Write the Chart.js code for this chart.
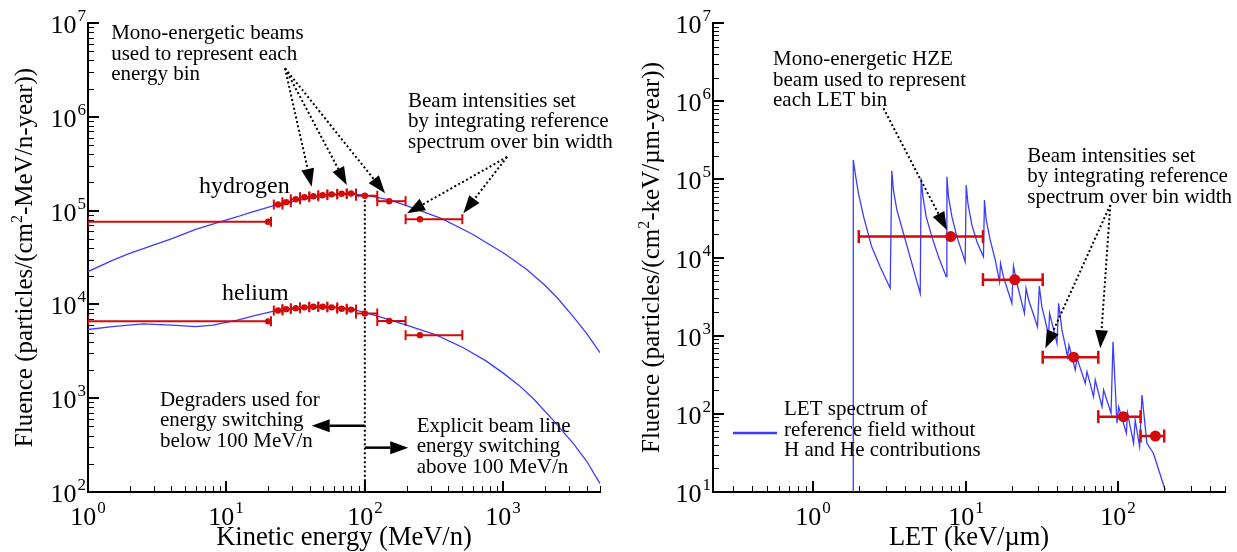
<!DOCTYPE html>
<html>
<head>
<meta charset="utf-8">
<script src="https://cdn.jsdelivr.net/npm/chart.js@4.4.0/dist/chart.umd.min.js"></script>
<style>
  body { margin: 0; background: #fff; }
  #wrap { position: relative; width: 1237px; height: 552px; }
  canvas { position: absolute; top: 0; }
</style>
</head>
<body>
<div id="wrap">
  <canvas id="energyChart" width="619" height="552" style="left:0"></canvas>
  <canvas id="letChart" width="618" height="552" style="left:619px"></canvas>
</div>
<script>
// ---- left panel: kinetic energy spectra (MeV/n)
const hCurveE = [1, 1.5, 2, 3, 4, 6, 9, 12, 15, 22, 30, 45, 70, 100, 150, 200, 360, 600, 800, 1000, 1480, 2000, 2500, 3160, 4000, 5000];
const hCurveF = [2.24e4, 2.95e4, 3.5e4, 4.3e4, 5.0e4, 6.3e4, 7.6e4, 8.6e4, 9.6e4, 1.13e5, 1.25e5, 1.40e5, 1.50e5, 1.47e5, 1.30e5, 1.13e5,
  8.2e4, 5.6e4, 4.33e4, 3.55e4, 2.36e4, 1.6e4, 1.14e4, 7.6e3, 4.9e3, 3.06e3];
const heCurveE = [1, 1.5, 2.5, 4, 6, 8, 12, 16, 22, 35, 55, 80, 100, 150, 200, 330, 515, 750, 1000, 1300, 1640, 2300, 3200, 4000, 5000];
const heCurveF = [5.4e3, 5.8e3, 6.2e3, 6.0e3, 5.8e3, 6.0e3, 6.8e3, 7.6e3, 8.5e3, 9.2e3, 9.4e3, 8.9e3, 8.2e3, 6.9e3, 6.0e3, 4.7e3,
  3.45e3, 2.5e3, 1.85e3, 1.37e3, 1.0e3, 580, 330, 214, 123];

// energy bins and mono-energetic beams
const binLo = [1, 22, 25.4, 29.2, 34, 39.7, 46.1, 53.6, 63.2, 74, 86.3, 123, 197];
const binHi = [21, 25.4, 29.2, 34, 39.7, 46.1, 53.6, 63.2, 74, 86.3, 123, 197, 506];
const binE = [20, 23.6, 27, 31.7, 36.6, 42.5, 49.6, 57.6, 68.1, 79.5, 100, 150, 250];
const hBeam = [7.6e4, 1.16e5, 1.23e5, 1.32e5, 1.39e5, 1.42e5, 1.46e5, 1.49e5, 1.51e5, 1.52e5, 1.44e5, 1.26e5, 8.1e4];
const heBeam = [6.6e3, 8.6e3, 8.9e3, 9.1e3, 9.3e3, 9.45e3, 9.45e3, 9.3e3, 9.0e3, 8.8e3, 8.0e3, 6.65e3, 4.7e3];
const switchE = 100;

// ---- right panel: LET spectrum (keV/um)
const letX = [1.84, 1.84, 1.91, 1.99, 2.15, 2.43, 2.76, 3.21,
  3.29, 3.37, 3.55, 3.92, 4.45, 5.05,
  5.12, 5.26, 5.52, 6.02, 6.65, 7.47,
  7.55, 7.73, 8.14, 8.78, 9.95,
  10.1, 10.36, 11.0, 11.87, 13.1,
  13.3, 13.66, 14.5, 15.65, 16.7,
  16.95, 17.7, 20.1, 20.6, 21.7, 24.3, 24.9, 25.9, 29.6, 30.4, 31.6, 35.0, 35.5, 39.7, 40.7, 42.8,
  46.6, 47.6, 52.3, 53.7, 60.8, 62.4, 68.9, 70.7, 78.3, 80.2, 89.7, 92.4, 98.1, 100.6,
  113, 115, 126, 129, 138, 143, 154, 170, 184, 203];
const letF = [10, 1.77e5, 1.08e5, 6.6e4, 3.33e4, 1.37e4, 7.6e3, 4.04e3,
  1.29e5, 7.3e4, 4.06e4, 2.04e4, 8.4e3, 3.48e3,
  1.03e5, 6.0e4, 3.33e4, 1.85e4, 1.02e4, 5.69e3,
  1.08e5, 6.0e4, 3.33e4, 1.85e4, 8.8e3,
  8.47e4, 4.94e4, 2.61e4, 1.59e4, 1.02e4,
  5.44e4, 3.02e4, 1.68e4, 9.3e3, 4.9e3,
  8.43e3, 5.69e3, 2.6e3, 7.79e3, 4.68e3, 1.93e3, 4.04e3, 2.86e3, 1.3e3, 4.32e3, 2.35e3, 1.02e3, 1.93e3, 799, 2.6e3, 1.18e3,
  538, 760, 364, 513, 246, 346, 166, 271, 123, 202, 102, 838, 75.7, 123,
  56.4, 102, 42, 83.4, 38, 174, 42, 31.3, 19.1, 10.6];
const letLo = [2, 13, 32, 74, 140];
const letHi = [13, 32, 74, 140, 200];
const letMid = [8, 21, 51, 108, 175];
const letBeam = [1.85e4, 5.2e3, 530, 92, 52];

const RED = '#d20a0a';
const BLUE = '#3c3cff';
const SERIF = '"Liberation Serif", "Times New Roman", serif';

function pts(xs, ys) {
    return xs.map((x, i) => ({ x: x, y: ys[i] }));
}

function beamSets(lo, hi, mid, val, capR, dotR, width) {
    const sets = [{
        data: pts(mid, val), showLine: false, pointStyle: 'circle', pointRadius: dotR,
        pointBackgroundColor: RED, pointBorderColor: RED, pointBorderWidth: 0
    }];
    lo.forEach((l, i) => {
        sets.push({
            data: [{ x: l, y: val[i] }, { x: hi[i], y: val[i] }],
            showLine: true, borderColor: RED, borderWidth: width,
            pointStyle: 'line', pointRotation: 90, pointRadius: capR,
            pointBorderColor: RED, pointBorderWidth: width
        });
    });
    return sets;
}

function spectrum(xs, ys) {
    return { data: pts(xs, ys), showLine: true, borderColor: BLUE, borderWidth: 1.3, pointRadius: 0 };
}

function logTicks(min, max) {
    const ticks = [];
    for (let e = Math.floor(Math.log10(min)); e <= Math.ceil(Math.log10(max)); e++) {
        for (let m = 1; m < 10; m++) {
            const v = m * Math.pow(10, e);
            if (v >= min * 0.9999 && v <= max * 1.0001) ticks.push({ v: v, major: m === 1, exp: e });
        }
    }
    return ticks;
}

function power(ctx, exp, x, y, align) {
    ctx.font = '26px ' + SERIF;
    const wb = ctx.measureText('10').width;
    ctx.font = '17px ' + SERIF;
    const we = ctx.measureText(String(exp)).width;
    const x0 = align === 'right' ? x - wb - we - 1 : x - (wb + we + 1) / 2;
    ctx.font = '26px ' + SERIF;
    ctx.fillText('10', x0, y);
    ctx.font = '17px ' + SERIF;
    ctx.fillText(String(exp), x0 + wb + 1, y - 12);
}

function rich(ctx, parts, x, y, size) {
    let total = 0;
    const widths = parts.map(p => {
        ctx.font = (p[1] ? '16px ' : size + 'px ') + SERIF;
        const w = ctx.measureText(p[0]).width;
        total += w;
        return w;
    });
    let cx = x - total / 2;
    parts.forEach((p, i) => {
        ctx.font = (p[1] ? '16px ' : size + 'px ') + SERIF;
        ctx.fillText(p[0], cx, p[1] ? y - 10 : y);
        cx += widths[i];
    });
}

function arrow(ctx, x1, y1, x2, y2, dotted) {
    const ang = Math.atan2(y2 - y1, x2 - x1), L = 18, H = 6.5;
    const bx = x2 - L * Math.cos(ang), by = y2 - L * Math.sin(ang);
    ctx.setLineDash(dotted ? [2, 2.5] : []);
    ctx.lineWidth = dotted ? 2 : 2.5;
    ctx.beginPath();
    ctx.moveTo(x1, y1);
    ctx.lineTo(bx, by);
    ctx.stroke();
    ctx.setLineDash([]);
    ctx.beginPath();
    ctx.moveTo(x2, y2);
    ctx.lineTo(bx + H * Math.sin(ang), by - H * Math.cos(ang));
    ctx.lineTo(bx - H * Math.sin(ang), by + H * Math.cos(ang));
    ctx.closePath();
    ctx.fill();
}

// axes ticks, labels, titles and annotations
function decor(cfg) {
    return {
        id: 'decor',
        afterDraw(chart) {
            const ctx = chart.ctx, xs = chart.scales.x, ys = chart.scales.y, a = chart.chartArea;
            const px = v => xs.getPixelForValue(v), py = v => ys.getPixelForValue(v);
            ctx.save();
            ctx.fillStyle = '#000';
            ctx.strokeStyle = '#000';
            ctx.textBaseline = 'alphabetic';

            logTicks(xs.min, xs.max).forEach(t => {
                const x = Math.round(px(t.v)) + (t.major ? 0 : 0.5);
                ctx.lineWidth = t.major ? 2 : 1;
                ctx.beginPath();
                ctx.moveTo(x, a.bottom);
                ctx.lineTo(x, a.bottom - (t.major ? 11 : 6));
                ctx.stroke();
                if (t.major) power(ctx, t.exp, x, a.bottom + 33, 'center');
            });
            logTicks(ys.min, ys.max).forEach(t => {
                const y = Math.round(py(t.v)) + (t.major ? 0 : 0.5);
                ctx.lineWidth = t.major ? 2 : 1;
                ctx.beginPath();
                ctx.moveTo(a.left, y);
                ctx.lineTo(a.left + (t.major ? 11 : 6), y);
                ctx.stroke();
                if (t.major) power(ctx, t.exp, a.left - 2, y + 10, 'right');
            });

            rich(ctx, cfg.xTitle, (a.left + a.right) / 2, a.bottom + 53, 26.5);
            ctx.save();
            ctx.translate(cfg.yTitleX, (a.top + a.bottom) / 2);
            ctx.rotate(-Math.PI / 2);
            rich(ctx, cfg.yTitle, 0, 0, 25);
            ctx.restore();

            ctx.font = '21px ' + SERIF;
            cfg.notes.forEach(n => {
                n.lines.forEach((line, i) => ctx.fillText(line, px(n.x), py(n.y) + i * 20.5));
            });
            ctx.font = '24px ' + SERIF;
            (cfg.labels || []).forEach(l => ctx.fillText(l.text, px(l.x), py(l.y)));
            cfg.arrows.forEach(r => arrow(ctx, px(r.from[0]), py(r.from[1]), px(r.to[0]), py(r.to[1]), r.dotted));
            if (cfg.legend) {
                const g = cfg.legend;
                ctx.strokeStyle = BLUE;
                ctx.lineWidth = 2.5;
                ctx.beginPath();
                ctx.moveTo(px(g.x1), py(g.y));
                ctx.lineTo(px(g.x2), py(g.y));
                ctx.stroke();
            }
            ctx.restore();
        }
    };
}

function logAxis(min, max) {
    return {
        type: 'logarithmic', min: min, max: max,
        ticks: { display: false },
        grid: { display: false, drawTicks: false },
        border: { display: true, color: '#000', width: 2 }
    };
}

function makeChart(id, datasets, xr, yr, padding, cfg) {
    return new Chart(document.getElementById(id).getContext('2d'), {
        type: 'scatter',
        data: { datasets: datasets },
        options: {
            responsive: false,
            animation: false,
            events: [],
            layout: { padding: padding },
            plugins: { legend: { display: false }, tooltip: { enabled: false } },
            scales: { x: logAxis(xr[0], xr[1]), y: logAxis(yr[0], yr[1]) }
        },
        plugins: [decor(cfg)]
    });
}

const switchIdx = binE.indexOf(switchE);

makeChart('energyChart',
    [].concat(
        beamSets(binLo, binHi, binE, hBeam, 5, 3.2, 2),
        beamSets(binLo, binHi, binE, heBeam, 5, 3.2, 2),
        [{
            data: [{ x: switchE, y: hBeam[switchIdx] }, { x: switchE, y: 100 }],
            showLine: true, borderColor: '#000', borderWidth: 2, borderDash: [2, 2.5], pointRadius: 0
        }],
        [spectrum(hCurveE, hCurveF), spectrum(heCurveE, heCurveF)]
    ),
    [1, 5000], [100, 1e7],
    { left: 88, right: 19, top: 23, bottom: 60 },
    {
        xTitle: [['Kinetic energy (MeV/n)', false]],
        yTitle: [['Fluence (particles/(cm', false], ['2', true], ['-MeV/n-year))', false]],
        yTitleX: 32,
        notes: [
            { x: 1.47, y: 6.7e6, lines: ['Mono-energetic beams', 'used to represent each', 'energy bin'] },
            { x: 205, y: 1.28e6, lines: ['Beam intensities set', 'by integrating reference', 'spectrum over bin width'] },
            { x: 3.31, y: 826, lines: ['Degraders used for', 'energy switching', 'below 100 MeV/n'] },
            { x: 237, y: 440, lines: ['Explicit beam line', 'energy switching', 'above 100 MeV/n'] }
        ],
        labels: [
            { text: 'hydrogen', x: 6.34, y: 1.55e5 },
            { text: 'helium', x: 9.3, y: 1.11e4 }
        ],
        arrows: [
            { from: [26.5, 3.29e6], to: [41.3, 1.8e5], dotted: true },
            { from: [26.5, 3.29e6], to: [74, 1.88e5], dotted: true },
            { from: [26.5, 3.29e6], to: [140, 1.53e5], dotted: true },
            { from: [1065, 3.73e5], to: [202, 9.35e4], dotted: true },
            { from: [1065, 3.73e5], to: [515, 9.35e4], dotted: true },
            { from: [100, 509], to: [41.3, 509], dotted: false },
            { from: [100, 297], to: [206, 297], dotted: false }
        ]
    });

makeChart('letChart',
    [].concat(
        beamSets(letLo, letHi, letMid, letBeam, 6.5, 5.5, 2.5),
        [spectrum(letX, letF)]
    ),
    [0.222, 500], [10, 1e7],
    { left: 94, right: 12, top: 23, bottom: 60 },
    {
        xTitle: [['LET (keV/\u00b5m)', false]],
        yTitle: [['Fluence (particles/(cm', false], ['2', true], ['-keV/\u00b5m-year))', false]],
        yTitleX: 40,
        notes: [
            { x: 0.549, y: 2.9e6, lines: ['Mono-energetic HZE', 'beam used to represent', 'each LET bin'] },
            { x: 25.4, y: 1.68e5, lines: ['Beam intensities set', 'by integrating reference', 'spectrum over bin width'] },
            { x: 0.648, y: 96.6, lines: ['LET spectrum of', 'reference field without', 'H and He contributions'] }
        ],
        arrows: [
            { from: [2.9, 8.1e5], to: [7.55, 2.25e4], dotted: true },
            { from: [88.7, 4.7e4], to: [33.3, 690], dotted: true },
            { from: [88.7, 4.7e4], to: [76.3, 690], dotted: true }
        ],
        legend: { x1: 0.3, x2: 0.583, y: 56.9 }
    });
</script>
</body>
</html>
